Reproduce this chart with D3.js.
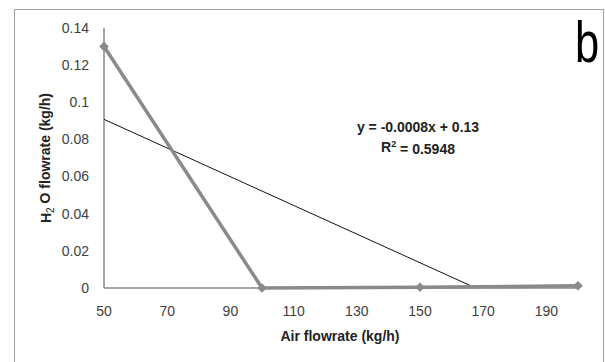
<!DOCTYPE html>
<html>
<head>
<meta charset="utf-8">
<script src="https://cdn.jsdelivr.net/npm/d3@7"></script>
<style>
  body { margin: 0; background: #fff; }
  svg { font-family: "Liberation Sans", Arial, sans-serif; }
</style>
</head>
<body>
<div id="chart"></div>
<script>
// data
const airFlow = [50, 100, 150, 200];
const waterFlow = [0.13, 0, 0.0004, 0.0012];
const xTicks = [50, 70, 90, 110, 130, 150, 170, 190];
const yTicks = [0, 0.02, 0.04, 0.06, 0.08, 0.1, 0.12, 0.14];
const equationText = "y = -0.0008x + 0.13";
const r2Text = "0.5948";

const W = 605, H = 362;
const margin = {top: 28, right: 27, bottom: 74, left: 104};

const svg = d3.select("#chart").append("svg")
    .attr("width", W)
    .attr("height", H);

// outer chart border
svg.append("rect")
    .attr("x", 14.5).attr("y", 9.5)
    .attr("width", 589).attr("height", 380)
    .attr("fill", "none")
    .attr("stroke", "#a0a0a0");

const x = d3.scaleLinear().domain([50, 200]).range([margin.left, W - margin.right]);
const y = d3.scaleLinear().domain([0, 0.14]).range([H - margin.bottom, margin.top]);

const axisColor = "#868686";
const textColor = "#404040";

// axes lines
svg.append("line")
    .attr("x1", x(50)).attr("x2", x(50))
    .attr("y1", y(0.14)).attr("y2", y(0))
    .attr("stroke", axisColor).attr("stroke-width", 1.5);
svg.append("line")
    .attr("x1", x(50)).attr("x2", x(200))
    .attr("y1", y(0)).attr("y2", y(0))
    .attr("stroke", axisColor).attr("stroke-width", 1.5);

// tick labels
svg.selectAll(".ytick").data(yTicks).enter().append("text")
    .attr("class", "ytick")
    .attr("x", 89)
    .attr("y", d => y(d))
    .attr("dy", "0.35em")
    .attr("text-anchor", "end")
    .attr("font-size", 14)
    .attr("fill", textColor)
    .text(d => d);

svg.selectAll(".xtick").data(xTicks).enter().append("text")
    .attr("class", "xtick")
    .attr("x", d => x(d))
    .attr("y", 311)
    .attr("dy", "0.35em")
    .attr("text-anchor", "middle")
    .attr("font-size", 14)
    .attr("fill", textColor)
    .text(d => d);

// axis titles
svg.append("text")
    .attr("x", 340).attr("y", 336)
    .attr("dy", "0.35em")
    .attr("text-anchor", "middle")
    .attr("font-size", 14)
    .attr("font-weight", "bold")
    .attr("fill", "#222")
    .text("Air flowrate (kg/h)");

const yTitle = svg.append("text")
    .attr("transform", "translate(46,158) rotate(-90)")
    .attr("dy", "0.35em")
    .attr("text-anchor", "middle")
    .attr("font-size", 14)
    .attr("font-weight", "bold")
    .attr("fill", "#222");
yTitle.append("tspan").text("H");
yTitle.append("tspan").attr("font-size", 10).attr("font-weight", "normal").attr("dy", "0.3em").text("2");
yTitle.append("tspan").attr("dy", "-0.3em").text(" O flowrate (kg/h)");

// linear trendline from the data (least squares)
const mx = d3.mean(airFlow), my = d3.mean(waterFlow);
const slope = d3.sum(airFlow, (d, i) => (d - mx) * (waterFlow[i] - my)) /
              d3.sum(airFlow, d => (d - mx) * (d - mx));
const intercept = my - slope * mx;

svg.append("clipPath").attr("id", "plotClip")
    .append("rect")
    .attr("x", x(50)).attr("y", y(0.14))
    .attr("width", x(200) - x(50)).attr("height", y(0) - y(0.14));

svg.append("line")
    .attr("clip-path", "url(#plotClip)")
    .attr("x1", x(50)).attr("y1", y(slope * 50 + intercept))
    .attr("x2", x(200)).attr("y2", y(slope * 200 + intercept))
    .attr("stroke", "#111").attr("stroke-width", 1);

// data series
const pts = airFlow.map((d, i) => [d, waterFlow[i]]);
svg.append("path")
    .datum(pts)
    .attr("d", d3.line().x(d => x(d[0])).y(d => y(d[1])))
    .attr("fill", "none")
    .attr("stroke", "#8a8a8a")
    .attr("stroke-width", 3.5);

svg.selectAll(".pt").data(pts).enter().append("path")
    .attr("class", "pt")
    .attr("transform", d => `translate(${x(d[0])},${y(d[1])})`)
    .attr("d", d3.symbol(d3.symbolDiamond2, 60))
    .attr("fill", "#8a8a8a");

// equation label
svg.append("text")
    .attr("x", 418).attr("y", 127)
    .attr("dy", "0.35em")
    .attr("text-anchor", "middle")
    .attr("font-size", 14)
    .attr("font-weight", "bold")
    .attr("fill", "#222")
    .text(equationText);

const r2 = svg.append("text")
    .attr("x", 418).attr("y", 147)
    .attr("dy", "0.35em")
    .attr("text-anchor", "middle")
    .attr("font-size", 14)
    .attr("font-weight", "bold")
    .attr("fill", "#222");
r2.append("tspan").text("R");
r2.append("tspan").attr("font-size", 9).attr("dy", "-0.5em").text("2");
r2.append("tspan").attr("dy", "0.5em").text(" = " + r2Text);

// panel letter (narrow glyph)
svg.append("text")
    .attr("transform", "translate(587,62) scale(0.75,1)")
    .attr("text-anchor", "middle")
    .attr("font-size", 58)
    .attr("fill", "#000")
    .text("b");
</script>
</body>
</html>
